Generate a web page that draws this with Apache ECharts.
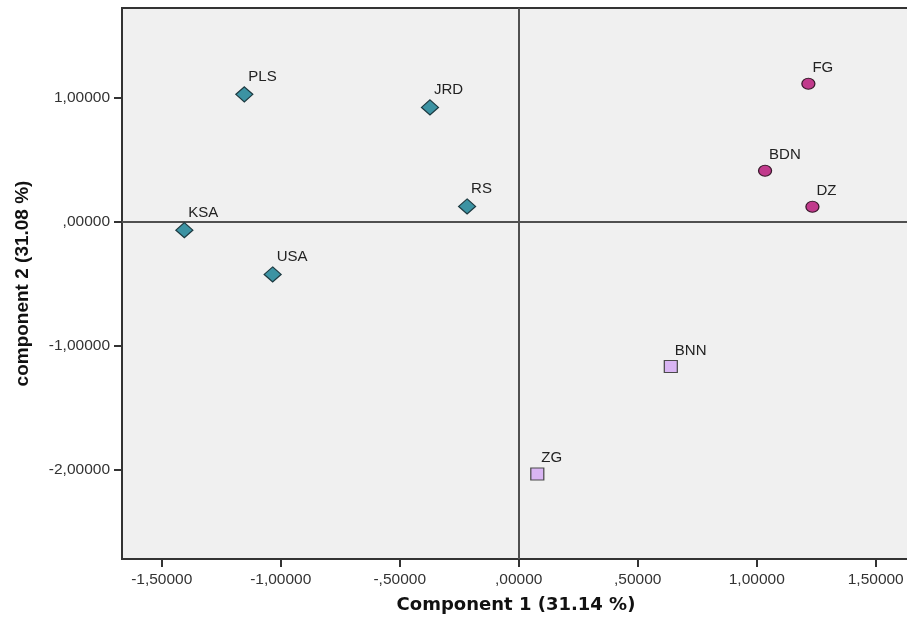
<!DOCTYPE html>
<html>
<head>
<meta charset="utf-8">
<script src="https://cdn.jsdelivr.net/npm/echarts@6/dist/echarts.min.js"></script>
<style>html,body{margin:0;padding:0;background:#fff;}#c{width:907px;height:619px;}</style>
</head>
<body>
<div id="c"></div>
<script>
// Group 1 (diamonds)
const names1 = ['PLS', 'JRD', 'RS', 'KSA', 'USA'];
const x1 = [-1.153, -0.373, -0.217, -1.405, -1.034];
const y1 = [1.024, 0.919, 0.121, -0.070, -0.427];
// Group 2 (circles)
const names2 = ['FG', 'BDN', 'DZ'];
const x2 = [1.217, 1.035, 1.234];
const y2 = [1.110, 0.409, 0.118];
// Group 3 (squares)
const names3 = ['BNN', 'ZG'];
const x3 = [0.639, 0.078];
const y3 = [-1.169, -2.035];
// Tick labels
const xTicks = [-1.5, -1.0, -0.5, 0, 0.5, 1.0, 1.5];
const yTicks = [-2, -1, 0, 1];

function fmt(v) {
  let s = Math.abs(v).toFixed(5).replace('.', ',');
  if (s.startsWith('0,')) s = s.slice(1);
  return (v < 0 ? '-' : '') + s;
}
function pts(n, xs, ys) { return n.map((nm, i) => ({ name: nm, value: [xs[i], ys[i]] })); }

const FONT = 'Liberation Sans, Arial, sans-serif';
const labelCfg = {
  show: true, position: 'top', align: 'left', distance: 2, offset: [4, 0],
  formatter: p => p.name, color: '#222', fontSize: 15, fontFamily: FONT
};

const chart = echarts.init(document.getElementById('c'));
chart.setOption({
  animation: false,
  grid: {
    left: 122, top: 8, width: 788, height: 551,
    outerBoundsMode: 'none', containLabel: false,
    show: true, backgroundColor: '#f0f0f0', borderColor: '#333333', borderWidth: 2
  },
  xAxis: {
    type: 'value', min: -1.667, max: 1.644,
    name: 'Component 1 (31.14 %)', nameLocation: 'middle', nameGap: 37,
    nameTextStyle: { fontSize: 18, fontWeight: 'bold', color: '#111', fontFamily: 'DejaVu Sans, sans-serif' },
    axisLine: { show: false, onZero: false },
    splitLine: { show: false },
    axisTick: { show: true, length: 8, lineStyle: { color: '#333333', width: 2 }, customValues: xTicks },
    axisLabel: { customValues: xTicks, formatter: fmt, fontSize: 15.5, color: '#333', fontFamily: FONT, margin: 13 }
  },
  yAxis: {
    type: 'value', min: -2.72, max: 1.72,
    name: 'component 2 (31.08 %)', nameLocation: 'middle', nameGap: 90,
    nameTextStyle: { fontSize: 19, fontWeight: 'bold', color: '#111', fontFamily: FONT },
    axisLine: { show: false, onZero: false },
    splitLine: { show: false },
    axisTick: { show: true, length: 8, lineStyle: { color: '#333333', width: 2 }, customValues: yTicks },
    axisLabel: { customValues: yTicks, formatter: fmt, fontSize: 15.5, color: '#333', fontFamily: FONT, margin: 12 }
  },
  series: [
    {
      type: 'scatter', data: pts(names1, x1, y1), symbol: 'diamond', symbolSize: [17, 15],
      itemStyle: { color: '#3c93a3', borderColor: '#1d3940', borderWidth: 1.2, opacity: 1 },
      label: labelCfg, z: 5,
      markLine: {
        silent: true, symbol: 'none', label: { show: false },
        lineStyle: { color: '#505050', width: 2, type: 'solid' },
        data: [{ xAxis: 0 }, { yAxis: 0 }], z: 1
      }
    },
    {
      type: 'scatter', data: pts(names2, x2, y2), symbol: 'circle', symbolSize: [13, 11],
      itemStyle: { color: '#c13a8c', borderColor: '#3a1a2c', borderWidth: 1.2, opacity: 1 },
      label: labelCfg, z: 5
    },
    {
      type: 'scatter', data: pts(names3, x3, y3), symbol: 'rect', symbolSize: [13, 12],
      itemStyle: { color: '#d9b5f3', borderColor: '#4a4a4a', borderWidth: 1.2, opacity: 1 },
      label: labelCfg, z: 5
    }
  ]
});
</script>
</body>
</html>
